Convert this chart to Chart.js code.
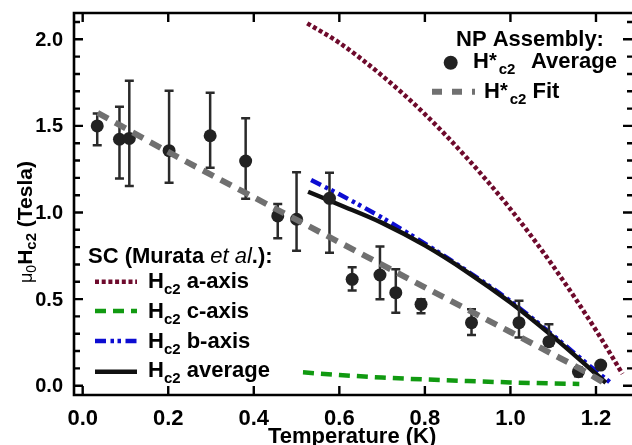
<!DOCTYPE html>
<html>
<head>
<meta charset="utf-8">
<script src="https://cdn.jsdelivr.net/npm/chart.js@4.4.1/dist/chart.umd.min.js"></script>
<style>
html,body{margin:0;padding:0;background:#fff;}
canvas{display:block;}
</style>
</head>
<body>
<canvas id="c" width="632" height="445"></canvas>
<script>
// ---- Data ----
// NP assembly H*c2 average (points with error bars)
const npTemp = [0.034, 0.086, 0.109, 0.202, 0.298, 0.381, 0.456, 0.500, 0.577, 0.630, 0.695, 0.732, 0.791, 0.909, 1.020, 1.090, 1.159, 1.211];
const npH    = [1.500, 1.423, 1.428, 1.357, 1.443, 1.297, 0.980, 0.961, 1.082, 0.614, 0.639, 0.537, 0.470, 0.364, 0.364, 0.254, 0.081, 0.119];
const npErrLow  = [1.389, 1.197, 1.153, 1.172, 1.259, 1.080, 0.851, 0.779, 0.768, 0.549, 0.499, 0.421, 0.418, 0.293, 0.279, 0.230, 0.055, null];
const npErrHigh = [1.571, 1.611, 1.761, 1.703, 1.692, 1.544, 1.049, 1.232, 1.230, 0.684, 0.803, 0.672, 0.499, 0.441, 0.491, 0.355, 0.105, null];

// H*c2 fit
const fitTemp = [0.035, 0.200, 0.400, 0.600, 0.800, 1.000, 1.100, 1.160, 1.219];
const fitH    = [1.575, 1.350, 1.088, 0.828, 0.568, 0.310, 0.180, 0.102, 0.016];

// Murata et al. single crystal curves
const aTemp = [0.525, 0.600, 0.700, 0.800, 0.900, 1.000, 1.100, 1.200, 1.262];
const aH    = [2.092, 1.980, 1.790, 1.568, 1.310, 1.020, 0.690, 0.320, 0.068];
const cTemp = [0.515, 0.600, 0.700, 0.800, 0.900, 1.000, 1.100, 1.161];
const cH    = [0.077, 0.062, 0.047, 0.036, 0.027, 0.019, 0.013, 0.010];
const bTemp = [0.534, 0.600, 0.700, 0.800, 0.900, 1.000, 1.100, 1.180, 1.234];
const bH    = [1.188, 1.105, 0.970, 0.820, 0.660, 0.488, 0.290, 0.125, 0.017];
const avgTemp = [0.527, 0.600, 0.700, 0.800, 0.900, 1.000, 1.100, 1.160, 1.223];
const avgH    = [1.120, 1.045, 0.940, 0.810, 0.655, 0.480, 0.282, 0.155, 0.017];

// tick labels
const xTickVals = [0.0, 0.2, 0.4, 0.6, 0.8, 1.0, 1.2];
const xTickLabels = ["0.0", "0.2", "0.4", "0.6", "0.8", "1.0", "1.2"];
const yTickVals = [0.0, 0.5, 1.0, 1.5, 2.0];
const yTickLabels = ["0.0", "0.5", "1.0", "1.5", "2.0"];
const yMinorVals = [0.1,0.2,0.3,0.4,0.6,0.7,0.8,0.9,1.1,1.2,1.3,1.4,1.6,1.7,1.8,1.9,2.1];

// ---- helpers ----
const zip = (xs, ys) => xs.map((x, i) => ({x: x, y: ys[i]}));
const FONT = '"Liberation Sans", Arial, Helvetica, sans-serif';
const C_A = '#6e0a2c', C_C = '#119a11', C_B = '#0c0cd2', C_AVG = '#111111', C_FIT = '#707070', C_PT = '#222222';

function rich(ctx, x, y, segs) {
  for (const s of segs) {
    ctx.font = s.f;
    if (s.at != null) x = s.at;
    if (s.endAt != null) x = s.endAt - ctx.measureText(s.t).width;
    ctx.fillText(s.t, x, y + (s.dy || 0));
    x += ctx.measureText(s.t).width + (s.gap || 0);
  }
  return x;
}
const B22 = 'bold 22px ' + FONT, B15 = 'bold 15px ' + FONT, B19 = 'bold 20px ' + FONT;
function hc2(rest, star, restEnd) {
  const a = [{t:'H', f:B22}];
  if (star) a.push({t:'*', f:B19, dy:-1, gap: 2});
  a.push({t:'c2', f:B15, dy:6});
  if (rest) a.push({t:rest, f:B22, endAt: restEnd});
  return a;
}

const overlay = {
  id: 'overlay',
  beforeDatasetDraw(chart, args) {
    if (args.index !== 1) return;
    const ctx = chart.ctx, xs = chart.scales.x, ys = chart.scales.y;
    ctx.save();
    ctx.strokeStyle = '#2a2a2a';
    ctx.lineWidth = 2.5;
    ctx.lineCap = 'butt';
    for (let i = 0; i < npTemp.length; i++) {
      if (npErrLow[i] == null) continue;
      const px = xs.getPixelForValue(npTemp[i]);
      const yl = ys.getPixelForValue(npErrLow[i]);
      const yh = ys.getPixelForValue(npErrHigh[i]);
      ctx.beginPath();
      ctx.moveTo(px, yl); ctx.lineTo(px, yh);
      ctx.moveTo(px - 4.5, yl); ctx.lineTo(px + 4.5, yl);
      ctx.moveTo(px - 4.5, yh); ctx.lineTo(px + 4.5, yh);
      ctx.stroke();
    }
    ctx.restore();
  },
  afterDraw(chart) {
    const ctx = chart.ctx, xs = chart.scales.x, ys = chart.scales.y;
    const a = chart.chartArea;
    ctx.save();
    // frame
    ctx.strokeStyle = '#000';
    ctx.lineWidth = 2.6;
    ctx.beginPath();
    ctx.moveTo(a.left, a.top); ctx.lineTo(a.right + 2, a.top);
    ctx.moveTo(a.left, a.bottom); ctx.lineTo(a.right + 2, a.bottom);
    ctx.moveTo(a.left, a.top - 1.3); ctx.lineTo(a.left, a.bottom + 1.3);
    ctx.moveTo(a.right + 2, a.top); ctx.lineTo(a.right + 2, a.bottom);
    ctx.stroke();
    // ticks
    ctx.lineWidth = 2.4;
    ctx.beginPath();
    for (const v of xTickVals) {
      const px = xs.getPixelForValue(v);
      ctx.moveTo(px, a.bottom); ctx.lineTo(px, a.bottom - 9);
      ctx.moveTo(px, a.top); ctx.lineTo(px, a.top + 9);
    }
    for (const v of yTickVals) {
      const py = ys.getPixelForValue(v);
      ctx.moveTo(a.left, py); ctx.lineTo(a.left + 9, py);
      ctx.moveTo(a.right + 2, py); ctx.lineTo(a.right - 9, py);
    }
    for (const v of yMinorVals) {
      const py = ys.getPixelForValue(v);
      ctx.moveTo(a.left, py); ctx.lineTo(a.left + 6, py);
      ctx.moveTo(a.right + 2, py); ctx.lineTo(a.right - 5, py);
    }
    ctx.stroke();
    // tick labels
    ctx.fillStyle = '#000';
    ctx.font = 'bold 22px ' + FONT;
    ctx.textAlign = 'center'; ctx.textBaseline = 'alphabetic';
    xTickVals.forEach((v, i) => ctx.fillText(xTickLabels[i], xs.getPixelForValue(v), 425));
    ctx.font = 'bold 20px ' + FONT;
    ctx.textAlign = 'right'; ctx.textBaseline = 'middle';
    yTickVals.forEach((v, i) => ctx.fillText(yTickLabels[i], 63, ys.getPixelForValue(v) + 1));
    ctx.textAlign = 'left'; ctx.textBaseline = 'alphabetic';
    // x title
    ctx.font = 'bold 22px ' + FONT;
    ctx.fillText('Temperature (K)', 268, 443);
    // y title
    ctx.save();
    ctx.translate(32, 283);
    ctx.rotate(-Math.PI / 2);
    rich(ctx, 0, 0, [
      {t:'\u03bc', f:'18px ' + FONT},
      {t:'0', f:'14px ' + FONT, dy:4},
      {t:'H', f:'bold 21px ' + FONT},
      {t:'c2', f:'bold 15px ' + FONT, dy:4},
      {t:' (Tesla)', f:'bold 21px ' + FONT}
    ]);
    ctx.restore();

    // --- top-right legend ---
    ctx.font = B22;
    ctx.fillText('NP Assembly:', 456, 46);
    ctx.beginPath(); ctx.fillStyle = C_PT; ctx.arc(450.7, 62.7, 7, 0, Math.PI * 2); ctx.fill();
    ctx.fillStyle = '#000';
    rich(ctx, 473, 68.3, hc2(' Average', true, 617));
    ctx.strokeStyle = C_FIT; ctx.lineWidth = 6; ctx.setLineDash([10, 10]);
    ctx.beginPath(); ctx.moveTo(432, 91.7); ctx.lineTo(475, 91.7); ctx.stroke();
    ctx.setLineDash([]);
    rich(ctx, 484, 98.3, hc2(' Fit', true));

    // --- bottom-left legend ---
    rich(ctx, 88, 263, [
      {t:'SC (Murata ', f:B22},
      {t:'et al', f:'italic 22px ' + FONT},
      {t:'.):', f:B22}
    ]);
    const rows = [
      {y:288.3, ly:281.7, c:C_A, w:4.5, d:[4, 2.7], t:' a-axis'},
      {y:318,   ly:311,   c:C_C, w:4.5, d:[11, 7], t:' c-axis'},
      {y:348,   ly:341,   c:C_B, w:4.5, d:[11, 4.5, 3.5, 3.5, 3.5, 4.5], t:' b-axis'},
      {y:376.7, ly:371.7, c:C_AVG, w:4.5, d:[], t:' average'}
    ];
    for (const r of rows) {
      ctx.strokeStyle = r.c; ctx.lineWidth = r.w; ctx.setLineDash(r.d);
      ctx.beginPath(); ctx.moveTo(95, r.ly); ctx.lineTo(137, r.ly); ctx.stroke();
      ctx.setLineDash([]);
      ctx.fillStyle = '#000';
      rich(ctx, 148, r.y, hc2(r.t, false));
    }
    ctx.restore();
  }
};

const lineDs = (label, xs, ys, color, width, dash, order) => ({
  label: label, data: zip(xs, ys), showLine: true, borderColor: color,
  borderWidth: width, borderDash: dash, pointRadius: 0, pointHoverRadius: 0,
  cubicInterpolationMode: 'monotone', fill: false, order: order, borderCapStyle: 'butt'
});

new Chart(document.getElementById('c'), {
  type: 'scatter',
  data: {
    datasets: [
      lineDs('H*c2 Fit', fitTemp, fitH, C_FIT, 6, [12, 8], 0),
      {label: 'H*c2 Average', data: zip(npTemp, npH), pointRadius: 6.5, pointHoverRadius: 6.5,
       backgroundColor: C_PT, borderColor: C_PT, borderWidth: 0, showLine: false, order: 1},
      lineDs('Hc2 average', avgTemp, avgH, C_AVG, 4.5, [], 2),
      lineDs('Hc2 b-axis', bTemp, bH, C_B, 4.5, [11, 4.5, 3.5, 3.5, 3.5, 4.5], 3),
      lineDs('Hc2 c-axis', cTemp, cH, C_C, 4.5, [11, 7], 4),
      lineDs('Hc2 a-axis', aTemp, aH, C_A, 4.5, [4, 2.7], 5)
    ]
  },
  options: {
    responsive: false,
    animation: false,
    devicePixelRatio: 1,
    events: [],
    layout: {padding: {left: 0, right: 0, top: 13, bottom: 0}, autoPadding: false},
    plugins: {legend: {display: false}, title: {display: false}, tooltip: {enabled: false}},
    scales: {
      x: {type: 'linear', min: -0.0203, max: 1.2842,
          ticks: {display: false}, grid: {display: false}, border: {display: false},
          afterFit: s => { s.height = 50; }},
      y: {type: 'linear', min: -0.0537, max: 2.1519,
          ticks: {display: false}, grid: {display: false}, border: {display: false},
          afterFit: s => { s.width = 74; }}
    }
  },
  plugins: [overlay]
});
</script>
</body>
</html>
